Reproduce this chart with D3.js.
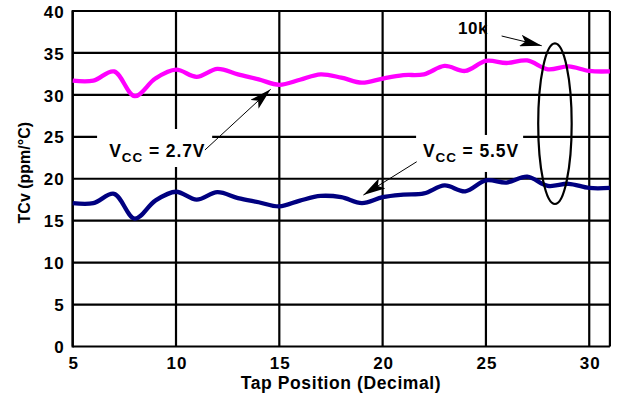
<!DOCTYPE html>
<html>
<head>
<meta charset="utf-8">
<script src="https://cdn.jsdelivr.net/npm/d3@7"></script>
<style>
  html, body { margin: 0; padding: 0; background: #fff; }
  svg { display: block; }
  text { font-family: "Liberation Sans", Arial, Helvetica, sans-serif; font-weight: bold; }
</style>
</head>
<body>
<svg id="chart" width="617" height="405"></svg>
<script>
// ---- data ----
const tapPositions = [5,6,7,8,9,10,11,12,13,14,15,16,17,18,19,20,21,22,23,24,25,26,27,28,29,30,31];
const tcv27 = [31.7,31.7,32.8,29.85,31.95,33.0,32.15,33.1,32.45,31.85,31.2,31.8,32.45,32.05,31.45,31.95,32.35,32.45,33.45,32.85,34.05,33.8,34.1,33.05,33.4,32.85,32.8];
const tcv55 = [17.1,17.1,18.2,15.25,17.4,18.45,17.5,18.4,17.7,17.2,16.7,17.4,17.95,17.8,17.1,17.8,18.1,18.25,19.2,18.5,19.8,19.55,20.25,19.15,19.4,18.9,18.9];
const xTicks = [5,10,15,20,25,30];
const yTicks = [0,5,10,15,20,25,30,35,40];
const seriesColors = ["#ff00ff", "#000080"];

const width = 617, height = 405;
const svg = d3.select("#chart");

const x = d3.scaleLinear().domain([5, 31]).range([72.7, 609.9]);
const y = d3.scaleLinear().domain([0, 40]).range([346.5, 11]);

// grid
const g = svg.append("g");
g.selectAll("line.h").data(yTicks).join("line")
  .attr("x1", x(5)).attr("x2", x(31))
  .attr("y1", d => y(d)).attr("y2", d => y(d))
  .attr("stroke", "#000").attr("stroke-width", 2.2);
g.selectAll("line.v").data(xTicks.concat([31])).join("line")
  .attr("x1", d => x(d)).attr("x2", d => x(d))
  .attr("y1", y(0)).attr("y2", y(40))
  .attr("stroke", "#000").attr("stroke-width", 2.2);
g.append("line").attr("x1", x(5)).attr("x2", x(5)).attr("y1", y(0)+1).attr("y2", y(40)-1)
  .attr("stroke", "#000").attr("stroke-width", 2.2);

// axis labels via d3 axes (no tick marks)
const xAxis = d3.axisBottom(x).tickValues(xTicks).tickSize(0).tickPadding(0).tickFormat(d3.format("d"));
const yAxis = d3.axisLeft(y).tickValues(yTicks).tickSize(0).tickPadding(0).tickFormat(d3.format("d"));
const gx = svg.append("g").attr("transform", `translate(0,${y(0)})`).call(xAxis);
gx.select(".domain").remove();
gx.selectAll("text").attr("fill", "#000").attr("font-size", 17).attr("dy", null).attr("y", 22.5)
  .attr("dx", 0.5).style("letter-spacing", "1px")
  .style("font-family", '"Liberation Sans", Arial, sans-serif').style("font-weight", "bold");
const gy = svg.append("g").attr("transform", `translate(${x(5)},0)`).call(yAxis);
gy.select(".domain").remove();
gy.selectAll("text").attr("fill", "#000").attr("font-size", 17).attr("x", -8).attr("dy", "0.36em")
  .style("letter-spacing", "1px")
  .style("font-family", '"Liberation Sans", Arial, sans-serif').style("font-weight", "bold");

// annotation label boxes (white, cover grid)
function labelBox(x0, x1, y0, y1) {
  svg.append("rect").attr("x", x(x0)).attr("y", y(y0)).attr("width", x(x1) - x(x0)).attr("height", y(y1) - y(y0)).attr("fill", "#fff");
}
labelBox(6.18, 11.75, 25.93, 21.40);
labelBox(21.62, 26.8, 25.22, 20.81);

// series lines
const line = d3.line().x((d, i) => x(tapPositions[i])).y(d => y(d)).curve(d3.curveCatmullRom.alpha(0.5));
[tcv27, tcv55].forEach((s, k) => {
  svg.append("path").datum(s).attr("d", line).attr("fill", "none")
    .attr("stroke", seriesColors[k]).attr("stroke-width", 4.3).attr("stroke-linejoin", "round").attr("stroke-linecap", "butt");
});

// arrow marker
const defs = svg.append("defs");
defs.append("marker").attr("id", "ah").attr("viewBox", "0 0 22 12").attr("refX", 22).attr("refY", 6)
  .attr("markerWidth", 22).attr("markerHeight", 12).attr("markerUnits", "userSpaceOnUse").attr("orient", "auto")
  .append("path").attr("d", "M0,0 L22,6 L0,12 L5,6 Z").attr("fill", "#000");

function arrow(x0, y0, x1, y1) {
  svg.append("line").attr("x1", x(x0)).attr("y1", y(y0)).attr("x2", x(x1)).attr("y2", y(y1))
    .attr("stroke", "#000").attr("stroke-width", 1).attr("marker-end", "url(#ah)");
}
arrow(11.40, 23.43, 14.58, 30.66);
arrow(21.65, 22.03, 19.07, 18.06);
arrow(25.76, 37.02, 27.70, 35.86);

// ellipse
svg.append("ellipse").attr("cx", x(28.34)).attr("cy", y(26.56))
  .attr("rx", x(28.34 + 0.81) - x(28.34)).attr("ry", y(26.56 - 9.57) - y(26.56))
  .attr("fill", "none").attr("stroke", "#000").attr("stroke-width", 2.2);

// annotation texts
function vccLabel(tx, ty, val) {
  const t = svg.append("text").attr("x", x(tx)).attr("y", y(ty)).attr("font-size", 17.5).attr("fill", "#000")
    .style("letter-spacing", "0.9px");
  t.append("tspan").text("V");
  t.append("tspan").attr("font-size", 13.5).attr("dy", 5).text("CC");
  t.append("tspan").attr("dy", -5).text(" = " + val);
}
vccLabel(6.77, 22.63, "2.7V");
vccLabel(21.95, 22.63, "5.5V");
svg.append("text").attr("x", x(23.65)).attr("y", y(37.26)).attr("font-size", 17).attr("fill", "#000")
  .style("letter-spacing", "0.5px").text("10k");

// axis titles
svg.append("text").attr("x", 341).attr("y", 389.3).attr("text-anchor", "middle").attr("font-size", 17.5).attr("fill", "#000")
  .style("letter-spacing", "0.6px").text("Tap Position (Decimal)");
svg.append("text").attr("transform", "translate(30,172.7) rotate(-90)").attr("text-anchor", "middle").attr("font-size", 16).attr("fill", "#000")
  .text("TCv (ppm/°C)");
</script>
</body>
</html>
